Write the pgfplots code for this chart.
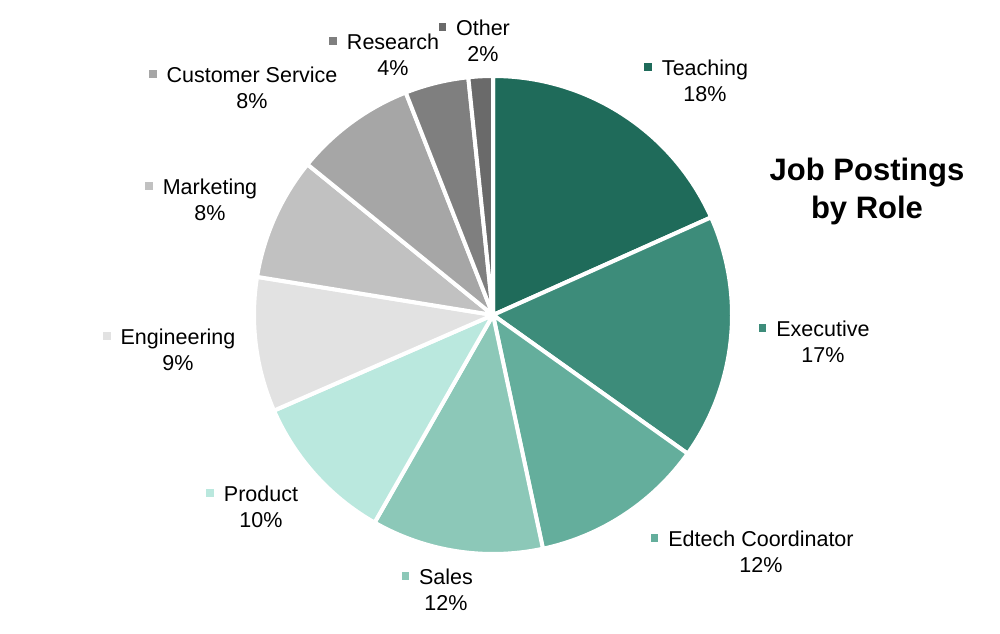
\documentclass[border=0pt]{standalone}
\usepackage{fontspec}
\setmainfont{Liberation Sans}
\usepackage{pgfplots}
\pgfplotsset{compat=1.18}

\definecolor{cTeach}{HTML}{1F6B5A}
\definecolor{cExec}{HTML}{3D8C7A}
\definecolor{cEdtech}{HTML}{64AE9C}
\definecolor{cSales}{HTML}{8CC8B8}
\definecolor{cProd}{HTML}{BAE8DE}
\definecolor{cEng}{HTML}{E2E2E2}
\definecolor{cMkt}{HTML}{C1C1C1}
\definecolor{cCust}{HTML}{A6A6A6}
\definecolor{cRes}{HTML}{7F7F7F}
\definecolor{cOther}{HTML}{6A6A6A}

% #1 = cumulative start (%), #2 = share (%), #3 = colour
\newcommand{\slice}[3]{%
  \fill[#3, draw=white, line width=4pt, line join=round]
    (axis cs:0,0) -- ++({90-3.6*#1}:239pt)
    arc[start angle={90-3.6*#1}, end angle={90-3.6*(#1+#2)}, radius=239pt]
    -- cycle;}

% #1,#2 = position, #3 = colour, #4 = name, #5 = share
\newcommand{\lbl}[5]{%
  \node[align=center, inner sep=0pt, font=\fontsize{21.5}{26}\selectfont]
    at (axis cs:#1,#2)
    {\llap{\textcolor{#3}{\raisebox{5pt}{\rule{7.5pt}{7.5pt}}}\hspace{10pt}}#4\\#5\%};}

\begin{document}
\begin{tikzpicture}
\begin{axis}[
  hide axis,
  scale only axis,
  x=1pt, y=1pt,
  xmin=-493, xmax=507,
  ymin=-318, ymax=315,
  clip=false,
]
% slices, clockwise from 12 o'clock (start %, share %)
\slice{0}{18.3}{cTeach}
\slice{18.3}{16.55}{cExec}
\slice{34.85}{11.8}{cEdtech}
\slice{46.65}{11.6}{cSales}
\slice{58.25}{10.2}{cProd}
\slice{68.45}{9.1}{cEng}
\slice{77.55}{8.3}{cMkt}
\slice{85.85}{8.2}{cCust}
\slice{94.05}{4.3}{cRes}
\slice{98.35}{1.65}{cOther}

% data labels
\lbl{212}{234}{cTeach}{Teaching}{18}
\lbl{330}{-27}{cExec}{Executive}{17}
\lbl{268}{-237}{cEdtech}{Edtech Coordinator}{12}
\lbl{-47}{-275}{cSales}{Sales}{12}
\lbl{-232}{-192}{cProd}{Product}{10}
\lbl{-315}{-35}{cEng}{Engineering}{9}
\lbl{-283}{115}{cMkt}{Marketing}{8}
\lbl{-241}{227}{cCust}{Customer Service}{8}
\lbl{-100}{260}{cRes}{Research}{4}
\lbl{-10}{274}{cOther}{Other}{2}

\node[align=center, inner sep=0pt, font=\fontsize{31}{38}\selectfont\bfseries]
  at (axis cs:374,124) {Job Postings\\by Role};
\end{axis}
\pgfresetboundingbox
\path (current axis.south west) rectangle (current axis.north east);
\end{tikzpicture}
\end{document}
